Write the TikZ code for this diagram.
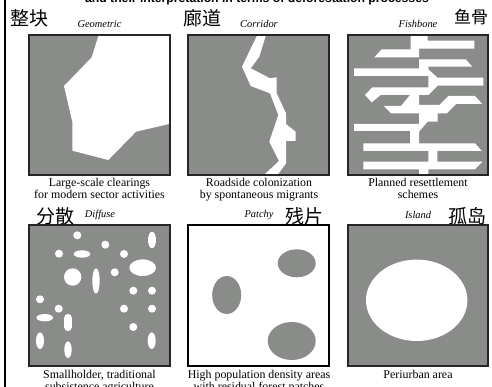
\documentclass[tikz,border=0pt]{standalone}
\usepackage{fontspec}
\setmainfont{Liberation Serif}
\setsansfont{Liberation Sans}
\newfontfamily\cjk{Noto Sans CJK SC}
\definecolor{forestgray}{HTML}{8A8C8A}
\tikzset{
    panelbox/.style={draw=black!85, line width=1.2pt},
    caption/.style={font=\fontsize{11.9}{11.8}\selectfont, align=center, anchor=north, inner sep=0pt},
    typename/.style={font=\fontsize{10.4}{12}\selectfont\itshape, inner sep=0pt},
    hanzi/.style={font=\fontsize{19}{20}\selectfont\cjk, inner sep=0pt}
}
\begin{document}
\begin{tikzpicture}[x=1pt, y=-1pt]
    \clip (0,0) rectangle (492,387);
    \fill[white] (0,0) rectangle (492,387);
    \fill[black] (4,0) rectangle (5.6,387);
    \node[font=\fontsize{12.2}{14}\selectfont\sffamily\bfseries, anchor=base, inner sep=0pt] (title) at (257,2.5) {and their interpretation in terms of deforestation processes};

    % Geometric
    \begin{scope}
        \fill[forestgray] (29,35) rectangle (170,175);
        \fill[white] (98.7,35) -- (169,35) -- (169,124) -- (136,131.7) -- (108.3,160) -- (72.3,150.7) -- (72.3,121.7) -- (64,86) -- (91.7,57.3) -- cycle;
        \draw[panelbox] (29,35) rectangle (170,175);
        \node[hanzi] (geomzi) at (29.5,18) {整块};
        \node[typename] (geomname) at (99.5,24) {Geometric};
        \node[caption] (geomcap) at (99.5,178.5) {Large-scale clearings\\for modern sector activities};
    \end{scope}

    % Corridor
    \begin{scope}
        \fill[forestgray] (188,35) rectangle (329,175);
        \fill[white] (257.3,35) -- (266,35) -- (259.3,56.7) -- (250.7,68.3) -- (270,78.3) -- (276.7,77.3) -- (276.7,93.3) -- (286,113.3) -- (286,124) -- (295.7,131.7) -- (295.7,141) -- (286,141) -- (286,163.3) -- (278.3,174) -- (265,174) -- (279,161) -- (269.3,141.7) -- (278.3,115) -- (270,93.3) -- (250.7,86) -- (242,66.7) -- cycle;
        \draw[panelbox] (188,35) rectangle (329,175);
        \node[hanzi] (corrzi) at (202.5,18) {廊道};
        \node[typename] (corrname) at (259,24) {Corridor};
        \node[caption] (corrcap) at (259,178.5) {Roadside colonization\\by spontaneous migrants};
    \end{scope}

    % Fishbone
    \begin{scope}
        \fill[forestgray] (348,35) rectangle (488,175);
        \fill[white] (410.7,35) -- (427.7,35) -- (427.7,40.7) -- (474.3,40.7) -- (474.3,48.7) -- (419,48.7) -- (419,59.3) -- (465.7,59.3) -- (472.3,66.7) -- (428.3,66.7) -- (428.3,69.3) -- (437.7,77.7) -- (483.3,77.7) -- (483.3,85.7) -- (437.7,85.7) -- (428.3,95) -- (419,95) -- (419,105) -- (439.3,105) -- (448.3,96) -- (475,96) -- (482.3,104) -- (456,104) -- (446.7,113.3) -- (437.7,113.3) -- (437.7,121.7) -- (427.7,121.7) -- (419,131.7) -- (419,143.3) -- (475,143.3) -- (481.7,151) -- (437.3,151) -- (437.3,161.7) -- (482.3,161.7) -- (475,169.3) -- (428.3,169.3) -- (428.3,175) -- (419,175) -- (419,169.3) -- (363.3,169.3) -- (363.3,161.7) -- (428.3,161.7) -- (428.3,151) -- (363.3,151) -- (363.3,143.3) -- (410,143.3) -- (410,131) -- (354,131) -- (354,124) -- (419,124) -- (419,113.3) -- (391,113.3) -- (384,106) -- (401,106) -- (410,95) -- (380.7,95) -- (371.7,102.3) -- (365,95) -- (372.3,87.3) -- (428.3,87.3) -- (428.3,76) -- (354,76) -- (354,68.3) -- (419,68.3) -- (419,57.3) -- (374.3,57.3) -- (381.7,49.3) -- (410.7,49.3) -- cycle;
        \draw[panelbox] (348,35) rectangle (488,175);
        \node[hanzi, font=\fontsize{17}{18}\selectfont\cjk] (fishzi) at (471,17) {鱼骨};
        \node[typename] (fishname) at (418,24) {Fishbone};
        \node[caption] (fishcap) at (418,178.5) {Planned resettlement\\schemes};
    \end{scope}

    % Diffuse
    \begin{scope}
        \fill[forestgray] (29,225) rectangle (170,366);
        \foreach \cx/\cy in {77.3/235.3, 105.3/244.7, 59/253.7, 124/254, 114.7/272.3, 133.3/290.7, 152/290.7, 40/299.3, 58.7/308.7, 124/308.7, 152/308.7, 133.3/327}
            \fill[white] (\cx,\cy) circle (4);
        \foreach \cx/\cy/\rx/\ry in {82/254/8.3/3.7, 152/240/4/8.3, 142.7/267.7/13.3/8.3, 72.7/277/8.7/8.7, 96/281/3.7/12.7, 44.7/317.7/8.3/3.7, 40/340.7/4/8.3, 68/349.7/3.7/8.3, 151.7/340.7/4/8.3}
            \fill[white] (\cx,\cy) ellipse ({\rx} and {\ry});
        \fill[white, rounded corners=3.6pt] (64.2,314) rectangle (71.8,331);
        \draw[panelbox] (29,225) rectangle (170,366);
        \node[hanzi] (diffzi) at (55,216) {分散};
        \node[typename] (diffname) at (100,215) {Diffuse};
        \node[caption] (diffcap) at (99.5,370) {Smallholder, traditional\\subsistence agriculture};
    \end{scope}

    % Patchy
    \begin{scope}
        \fill[white] (188,225) rectangle (329,366);
        \fill[forestgray] (296.7,263.3) ellipse (19 and 14);
        \fill[forestgray] (226.7,295) ellipse (14.5 and 19);
        \fill[forestgray] (291.7,341) ellipse (24 and 19);
        \draw[panelbox, draw=black] (188,225) rectangle (329,366);
        \node[hanzi] (patchzi) at (304,216) {残片};
        \node[typename] (patchname) at (259,215) {Patchy};
        \node[caption] (patchcap) at (259,370) {High population density areas\\with residual forest patches};
    \end{scope}

    % Island
    \begin{scope}
        \fill[forestgray] (348,225) rectangle (488,366);
        \fill[white] (416.7,300.3) ellipse (50.7 and 40.7);
        \draw[panelbox] (348,225) rectangle (488,366);
        \node[hanzi] (islezi) at (467.5,216) {孤岛};
        \node[typename] (islename) at (418,215) {Island};
        \node[caption] (islecap) at (418,370) {Periurban area};
    \end{scope}
\end{tikzpicture}
\end{document}
